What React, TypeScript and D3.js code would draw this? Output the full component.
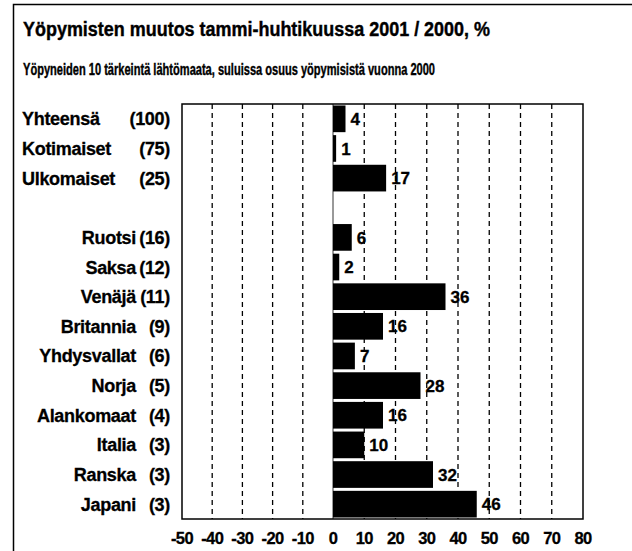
import React from 'react';
import * as d3 from 'd3';

// nights spent, change Jan-Apr 2001 / 2000, %
const categories = ['Yhteensä', 'Kotimaiset', 'Ulkomaiset', 'Ruotsi', 'Saksa', 'Venäjä', 'Britannia', 'Yhdysvallat', 'Norja', 'Alankomaat', 'Italia', 'Ranska', 'Japani'];
const shares = [100, 75, 25, 16, 12, 11, 9, 6, 5, 4, 3, 3, 3];
const changes = [4, 1, 17, 6, 2, 36, 16, 7, 28, 16, 10, 32, 46];
const ticks = [-50, -40, -30, -20, -10, 0, 10, 20, 30, 40, 50, 60, 70, 80];

const TITLE = 'Yöpymisten muutos tammi-huhtikuussa 2001 / 2000, %';
const SUBTITLE = 'Yöpyneiden 10 tärkeintä lähtömaata, suluissa osuus  yöpymisistä vuonna 2000';

const W = 632;
const H = 551;
const plot = { left: 182, right: 583, top: 104, bottom: 519 };
const FONT = 'Liberation Sans, Arial, sans-serif';

export default function App() {
  // 3 totals, an empty row, then the countries
  const rows = [...categories.slice(0, 3), '__gap', ...categories.slice(3)];

  const y = d3.scaleBand().domain(rows).range([plot.top, plot.bottom]).paddingInner(0.1).paddingOuter(0.05);
  // the scanned axis is slightly uneven left/right of zero
  const x = d3.scaleLinear().domain([-50, 0, 80]).range([plot.left, 333, plot.right]);
  const mid = (c: string) => y(c)! + y.bandwidth() / 2;

  return (
    <svg width={W} height={H} style={{ position: 'absolute', left: 0, top: 0, background: '#fff' }} fontFamily={FONT} fontWeight="bold">
      <rect x={0} y={0} width={W} height={H} fill="#fff" />
      {/* outer frame */}
      <path d={`M13.5,${H} V4.5 H${W}`} fill="none" stroke="#000" strokeWidth={1.5} />

      <g stroke="#000" strokeWidth={0.4}>
        <text x={23} y={36} fontSize={19.5} textLength={467} lengthAdjust="spacingAndGlyphs">{TITLE}</text>
        <text x={23} y={75} fontSize={16} textLength={412} lengthAdjust="spacingAndGlyphs">{SUBTITLE}</text>
      </g>

      {/* grid */}
      {ticks.filter(t => t !== 0 && t !== -50 && t !== 80).map(t => (
        <line key={t} x1={x(t)} x2={x(t)} y1={plot.top} y2={plot.bottom} stroke="#000" strokeWidth={1.3} strokeDasharray="5,4" />
      ))}
      <line x1={x(0)} x2={x(0)} y1={plot.top} y2={plot.bottom} stroke="#000" strokeWidth={0.8} />

      {/* bars */}
      {categories.map((c, i) => (
        <g key={c}>
          <rect x={x(Math.min(0, changes[i]))} y={y(c)} width={Math.abs(x(changes[i]) - x(0))} height={y.bandwidth()} fill="#000" />
          <text x={x(changes[i]) + 5} y={mid(c)} dy="0.36em" fontSize={17} stroke="#000" strokeWidth={0.3}>{changes[i]}</text>
        </g>
      ))}

      {/* category labels */}
      {categories.map((c, i) => (
        <g key={c} fontSize={18} stroke="#000" strokeWidth={0.3}>
          <text x={i < 3 ? 22 : 136} y={mid(c)} dy="0.36em" textAnchor={i < 3 ? 'start' : 'end'} letterSpacing={-0.3}>{c}</text>
          <text x={170} y={mid(c)} dy="0.36em" textAnchor="end" letterSpacing={-0.3}>({shares[i]})</text>
        </g>
      ))}

      <rect x={plot.left} y={plot.top} width={plot.right - plot.left} height={plot.bottom - plot.top} fill="none" stroke="#000" strokeWidth={1.5} />

      {/* x axis labels */}
      {ticks.map(t => (
        <text key={t} x={x(t)} y={544} fontSize={16.5} textAnchor="middle" letterSpacing={-0.6} stroke="#000" strokeWidth={0.3}>{t}</text>
      ))}
    </svg>
  );
}
